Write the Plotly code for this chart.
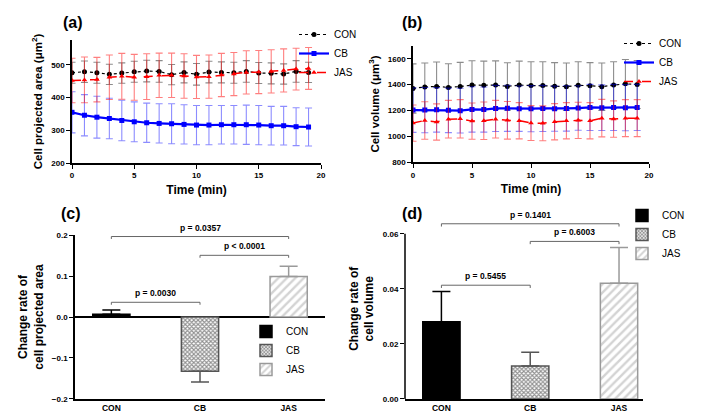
import plotly.graph_objects as go

W, H = 714, 414

# ---------------- data ----------------
time_min = list(range(20))

area_con = [476, 479, 476, 471, 475, 479, 481, 480, 470, 477, 471, 478, 477, 476, 480, 475, 474, 472, 480, 477]
area_con_err = [32, 33, 32, 31, 31, 32, 33, 33, 31, 32, 33, 33, 32, 32, 33, 32, 32, 31, 33, 31]
area_cb = [355, 346, 340, 336, 330, 326, 323, 321, 320, 318, 316, 316, 317, 317, 317, 316, 314, 314, 311, 310]
area_cb_err = [63, 63, 64, 62, 62, 61, 60, 60, 61, 60, 60, 60, 59, 59, 60, 60, 59, 59, 58, 58]
area_jas = [452, 454, 455, 462, 465, 462, 464, 468, 468, 466, 463, 464, 469, 472, 477, 478, 480, 483, 487, 489]
area_jas_err = [68, 70, 68, 68, 70, 70, 70, 68, 68, 68, 66, 66, 66, 66, 66, 66, 66, 66, 64, 64]

vol_con = [1370, 1382, 1386, 1378, 1385, 1396, 1395, 1396, 1386, 1396, 1393, 1393, 1388, 1384, 1395, 1391, 1384, 1396, 1406, 1401]
vol_con_err = [190, 185, 188, 183, 187, 188, 186, 187, 183, 185, 183, 183, 182, 183, 182, 179, 183, 180, 188, 185]
vol_cb = [1203, 1203, 1205, 1201, 1199, 1208, 1207, 1216, 1217, 1214, 1214, 1216, 1214, 1216, 1219, 1224, 1222, 1224, 1222, 1224]
vol_cb_err = [172, 175, 172, 172, 173, 175, 174, 178, 178, 175, 178, 178, 174, 175, 172, 178, 176, 178, 178, 178]
vol_jas = [1103, 1123, 1111, 1133, 1136, 1118, 1121, 1133, 1124, 1121, 1103, 1101, 1113, 1121, 1124, 1121, 1141, 1134, 1141, 1141]
vol_jas_err = [140, 145, 140, 145, 148, 140, 145, 145, 145, 140, 135, 135, 140, 140, 140, 140, 145, 140, 143, 143]

groups = ["CON", "CB", "JAS"]
rate_area = [0.007, -0.133, 0.099]
rate_area_err = [0.010, 0.026, 0.025]
rate_vol = [0.028, 0.012, 0.042]
rate_vol_err = [0.011, 0.005, 0.013]

# significance brackets: (group a, group b, bracket level, label)
sig_area = [("CON", "JAS", 0.197, "p = 0.0357"),
            ("CB", "JAS", 0.151, "p < 0.0001"),
            ("CON", "CB", 0.036, "p = 0.0030")]
sig_vol = [("CON", "JAS", 0.0636, "p = 0.1401"),
           ("CB", "JAS", 0.0572, "p = 0.6003"),
           ("CON", "CB", 0.0413, "p = 0.5455")]

# ---------------- helpers ----------------
FONT = "Liberation Sans, Arial, sans-serif"

def px_x(p):
    return p / W

def px_y(p):
    return 1 - p / H

fig = go.Figure()

line_styles = [
    ("CON", "black", "dot", "circle", 1.2, "rgba(0,0,0,0.45)"),
    ("CB", "#0000ff", "solid", "square", 2.2, "rgba(0,0,255,0.45)"),
    ("JAS", "#ff0000", "dash", "triangle-up", 1.5, "rgba(255,0,0,0.5)"),
]

area_series = [(area_con, area_con_err), (area_cb, area_cb_err), (area_jas, area_jas_err)]
vol_series = [(vol_con, vol_con_err), (vol_cb, vol_cb_err), (vol_jas, vol_jas_err)]

for (name, col, dash, sym, lw, ecol), (vals, errs) in zip(line_styles, area_series):
    fig.add_trace(go.Scatter(
        x=time_min, y=vals, name=name, mode="lines+markers",
        line=dict(color=col, dash=dash, width=lw),
        marker=dict(symbol=sym, size=5, color=col),
        error_y=dict(type="data", array=errs, color=ecol, thickness=1.1, width=3.5),
        xaxis="x", yaxis="y", legend="legend",
    ))

for (name, col, dash, sym, lw, ecol), (vals, errs) in zip(line_styles, vol_series):
    fig.add_trace(go.Scatter(
        x=time_min, y=vals, name=name, mode="lines+markers",
        line=dict(color=col, dash=dash, width=lw),
        marker=dict(symbol=sym, size=5, color=col),
        error_y=dict(type="data", array=errs, color=ecol, thickness=1.1, width=3.5),
        xaxis="x2", yaxis="y2", legend="legend2",
    ))

bar_styles = [
    dict(color="black", line=dict(color="black", width=1.5), pattern=dict(shape="")),
    dict(color="white", line=dict(color="#555555", width=1.5),
         pattern=dict(shape="x", fgcolor="#222222", bgcolor="white", size=3, solidity=0.6)),
    dict(color="white", line=dict(color="#9a9a9a", width=1.5),
         pattern=dict(shape="/", fgcolor="#a8a8a8", bgcolor="white", size=6, solidity=0.4)),
]
err_cols = ["black", "#555555", "#9a9a9a"]

for vals, errs, xa, ya, lg in [(rate_area, rate_area_err, "x3", "y3", "legend3"),
                               (rate_vol, rate_vol_err, "x4", "y4", "legend4")]:
    for g, v, e, st, ec in zip(groups, vals, errs, bar_styles, err_cols):
        up = [e] if v >= 0 else [0]
        dn = [0] if v >= 0 else [e]
        fig.add_trace(go.Bar(
            x=[g], y=[v], name=g, width=0.42,
            marker=dict(color=st["color"], line=st["line"], pattern=st["pattern"]),
            error_y=dict(type="data", symmetric=False, array=up, arrayminus=dn,
                         color=ec, thickness=1.5, width=9),
            xaxis=xa, yaxis=ya, legend=lg,
        ))

annotations = []
for sigs, xa, ya, tick in [(sig_area, "x3", "y3", 0.006), (sig_vol, "x4", "y4", 0.001)]:
    for a, b, lvl, label in sigs:
        fig.add_trace(go.Scatter(
            x=[a, a, b, b], y=[lvl - tick, lvl, lvl, lvl - tick], mode="lines",
            line=dict(color="#666666", width=1), showlegend=False, hoverinfo="skip",
            xaxis=xa, yaxis=ya,
        ))
        ia, ib = groups.index(a), groups.index(b)
        annotations.append(dict(
            x=(ia + ib) / 2, y=lvl, xref=xa, yref=ya, text="<b>" + label + "</b>",
            showarrow=False, yanchor="bottom", yshift=2,
            font=dict(family=FONT, size=8.5, color="black"),
        ))

for lab, cx, cy in [("(a)", 65, 14), ("(b)", 404, 14), ("(c)", 63, 205), ("(d)", 404, 205)]:
    annotations.append(dict(
        x=px_x(cx), y=px_y(cy), xref="paper", yref="paper", text="<b>" + lab + "</b>",
        showarrow=False, xanchor="center", yanchor="middle",
        font=dict(family=FONT, size=16, color="black"),
    ))

tickfont = dict(family=FONT, size=8, color="black", weight="bold")
titlefont = dict(family=FONT, size=11.5, color="black", weight="bold")
title12 = dict(family=FONT, size=12, color="black", weight="bold")

def ax(**kw):
    base = dict(showline=True, linecolor="black", linewidth=1.5, ticks="outside",
                ticklen=4, tickwidth=1.2, tickcolor="black", showgrid=False,
                zeroline=False, tickfont=tickfont, automargin=False)
    base.update(kw)
    return base

shapes = [
    # y axis line of panel (d), ending at the top tick 0.06
    dict(type="line", xref="paper", yref="y4", x0=px_x(397), x1=px_x(397), y0=0, y1=0.06,
         line=dict(color="black", width=1.5)),
]

y4_top_px = 391 - (391 - 225.7) / 0.06 * 0.0655

legend_font = dict(family=FONT, size=10, color="black")

fig.update_layout(
    width=W, height=H, margin=dict(l=0, r=0, t=0, b=0),
    paper_bgcolor="white", plot_bgcolor="white",
    barmode="overlay", font=dict(family=FONT, color="black"),
    xaxis=ax(domain=[px_x(64), px_x(313)], anchor="y", range=[0, 20],
             tickvals=[0, 5, 10, 15, 20],
             title=dict(text="Time (min)", font=title12, standoff=6)),
    yaxis=ax(domain=[px_y(155), px_y(32)], anchor="x", range=[200, 576],
             tickvals=[200, 300, 400, 500],
             title=dict(text="Cell projected area (μm<sup>2</sup>)", font=titlefont, standoff=6)),
    xaxis2=ax(domain=[px_x(405), px_x(641)], anchor="y2", range=[0, 20],
              tickvals=[0, 5, 10, 15, 20],
              title=dict(text="Time (min)", font=title12, standoff=6)),
    yaxis2=ax(domain=[px_y(154.3), px_y(37.75)], anchor="x2", range=[800, 1700],
              tickvals=[800, 1000, 1200, 1400, 1600],
              title=dict(text="Cell volume (μm<sup>3</sup>)", font=titlefont, standoff=6)),
    xaxis3=ax(domain=[px_x(67), px_x(317)], anchor="y3", range=[-0.41, 2.41],
              type="category", ticks="", categoryorder="array", categoryarray=groups,
              tickfont=dict(family=FONT, size=8.5, color="black", weight="bold")),
    yaxis3=ax(domain=[px_y(390.7), px_y(227.3)], anchor="x3", range=[-0.2, 0.2],
              tickvals=[-0.2, -0.1, 0, 0.1, 0.2], tickformat=".1f",
              zeroline=True, zerolinecolor="black", zerolinewidth=1.5,
              title=dict(text="Change rate of<br>cell projected area", font=title12, standoff=6)),
    xaxis4=ax(domain=[px_x(397), px_x(635)], anchor="y4", range=[-0.41, 2.27],
              type="category", ticks="", categoryorder="array", categoryarray=groups,
              tickfont=dict(family=FONT, size=8.5, color="black", weight="bold")),
    yaxis4=ax(domain=[px_y(391), px_y(y4_top_px)], anchor="x4", range=[0, 0.0655],
              showline=False, tickvals=[0, 0.02, 0.04, 0.06], tickformat=".2f",
              title=dict(text="Change rate of<br>cell volume", font=title12, standoff=6)),
    legend=dict(x=px_x(286), y=px_y(12), xanchor="left", yanchor="top",
                font=legend_font, bgcolor="rgba(0,0,0,0)", itemwidth=30),
    legend2=dict(x=px_x(611), y=px_y(21), xanchor="left", yanchor="top",
                 font=legend_font, bgcolor="rgba(0,0,0,0)", itemwidth=30),
    legend3=dict(x=px_x(238), y=px_y(309), xanchor="left", yanchor="top",
                 font=legend_font, bgcolor="rgba(0,0,0,0)", itemwidth=30),
    legend4=dict(x=px_x(614), y=px_y(193), xanchor="left", yanchor="top",
                 font=legend_font, bgcolor="rgba(0,0,0,0)", itemwidth=30),
    annotations=annotations,
    shapes=shapes,
    showlegend=True,
)

fig.write_html("out.html")
